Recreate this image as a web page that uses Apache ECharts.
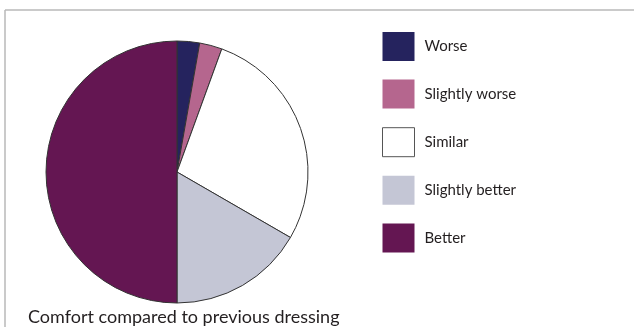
<!DOCTYPE html>
<html>
<head>
<meta charset="utf-8">
<script src="https://cdn.jsdelivr.net/npm/echarts@6/dist/echarts.min.js"></script>
<style>
  html, body { margin: 0; padding: 0; background: #fff; }
  #chart { width: 634px; height: 327px; }
</style>
</head>
<body>
<div id="chart"></div>
<script>
// categories and counts (angles ~10, 10, 100, 60, 180 deg)
var categories = ['Worse', 'Slightly worse', 'Similar', 'Slightly better', 'Better'];
var counts = [1, 1, 10, 6, 18];
var colors = ['#25235e', '#b5668e', '#ffffff', '#c4c6d5', '#641652'];
var caption = 'Comfort compared to previous dressing';

var chart = echarts.init(document.getElementById('chart'));

var pieData = categories.map(function (c, i) {
    return { name: c, value: counts[i], itemStyle: { color: colors[i] } };
});

var legendData = categories.map(function (c) {
    if (c === 'Similar') {
        return { name: c, itemStyle: { borderColor: '#555', borderWidth: 1 } };
    }
    return { name: c, itemStyle: { borderWidth: 0 } };
});

var option = {
    animation: false,
    title: {
        text: caption,
        left: 23,
        top: 303,
        textStyle: {
            fontFamily: 'Lato',
            fontWeight: 'normal',
            fontSize: 18,
            color: '#231f20'
        }
    },
    legend: {
        orient: 'vertical',
        left: 377,
        top: 27,
        itemWidth: 32,
        itemHeight: 29,
        itemGap: 18.6,
        icon: 'rect',
        data: legendData,
        selectedMode: false,
        textStyle: {
            fontFamily: 'Lato',
            fontSize: 15,
            color: '#231f20',
            padding: [0, 0, 0, 5]
        }
    },
    graphic: [
        { type: 'line', shape: { x1: 5, y1: 10, x2: 634, y2: 10 }, style: { stroke: '#b8b8b8', lineWidth: 1.5 } },
        { type: 'line', shape: { x1: 5, y1: 10, x2: 5, y2: 327 }, style: { stroke: '#b8b8b8', lineWidth: 1.5 } }
    ],
    series: [{
        type: 'pie',
        center: [177, 172],
        radius: 131,
        startAngle: 90,
        clockwise: true,
        label: { show: false },
        labelLine: { show: false },
        emphasis: { disabled: true },
        itemStyle: { borderColor: '#333', borderWidth: 1 },
        data: pieData
    }]
};
chart.setOption(option);
</script>
</body>
</html>
